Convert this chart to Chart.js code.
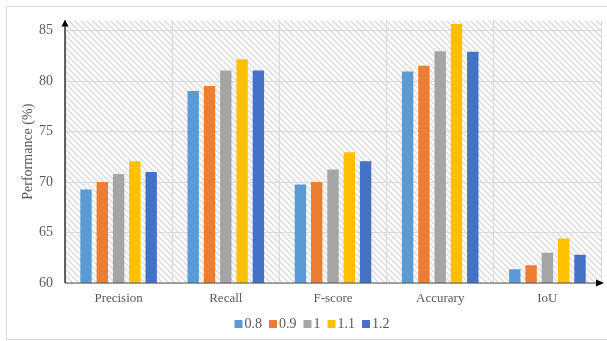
<!DOCTYPE html>
<html>
<head>
<meta charset="utf-8">
<script src="https://cdn.jsdelivr.net/npm/chart.js@4.4.1/dist/chart.umd.min.js"></script>
<style>
  html, body { margin: 0; padding: 0; background: #ffffff; }
  #wrap { width: 607px; height: 341px; position: relative; }
</style>
</head>
<body>
<div id="wrap"><canvas id="c" width="607" height="341"></canvas></div>
<script>
// Metrics on the x axis
const categories = ['Precision', 'Recall', 'F-score', 'Accurary', 'IoU'];

// One series per parameter setting
const seriesNames = ['0.8', '0.9', '1', '1.1', '1.2'];
const values08 = [69.25, 79.0, 69.75, 80.95, 61.35];
const values09 = [70.0, 79.5, 70.0, 81.5, 61.75];
const values10 = [70.8, 81.05, 71.25, 82.95, 63.0];
const values11 = [72.05, 82.15, 72.95, 85.65, 64.4];
const values12 = [71.0, 81.05, 72.05, 82.9, 62.8];

// Y axis ticks
const yTicks = [60, 65, 70, 75, 80, 85];

const seriesValues = [values08, values09, values10, values11, values12];
const seriesColors = ['#5B9BD5', '#ED7D31', '#A5A5A5', '#FFC000', '#4472C4'];

const FONT = "'Liberation Serif', 'Times New Roman', serif";
const TEXT = '#595959';

// Diagonal hatch used as plot area fill
function makeHatch() {
  const t = document.createElement('canvas');
  t.width = 6; t.height = 6;
  const g = t.getContext('2d');
  g.fillStyle = '#ffffff';
  g.fillRect(0, 0, 6, 6);
  g.strokeStyle = '#e0e0e0';
  g.lineWidth = 1.8;
  g.beginPath();
  g.moveTo(-1, -1); g.lineTo(7, 7);
  g.moveTo(-4, 2); g.lineTo(2, 8);
  g.moveTo(4, -2); g.lineTo(8, 2);
  g.stroke();
  return t;
}

const chromePlugin = {
  id: 'chrome',
  beforeDraw(chart) {
    const ctx = chart.ctx;
    const a = chart.chartArea;
    ctx.save();
    ctx.fillStyle = '#ffffff';
    ctx.fillRect(0, 0, chart.width, chart.height);
    // outer frame
    ctx.strokeStyle = '#d9d9d9';
    ctx.lineWidth = 1;
    ctx.strokeRect(6.5, 6.5, chart.width + 10, chart.height - 8);
    // hatched plot area
    ctx.fillStyle = ctx.createPattern(makeHatch(), 'repeat');
    ctx.fillRect(a.left, a.top, a.right - a.left, a.bottom - a.top);
    ctx.restore();
  },
  afterDatasetsDraw(chart) {
    const ctx = chart.ctx;
    const a = chart.chartArea;
    ctx.save();
    ctx.strokeStyle = '#000000';
    ctx.fillStyle = '#000000';
    ctx.lineWidth = 1.2;
    // y axis with arrow
    ctx.beginPath();
    ctx.moveTo(a.left, a.bottom);
    ctx.lineTo(a.left, a.top + 4);
    ctx.stroke();
    ctx.beginPath();
    ctx.moveTo(a.left, a.top - 1);
    ctx.lineTo(a.left - 3.5, a.top + 6);
    ctx.lineTo(a.left + 3.5, a.top + 6);
    ctx.closePath();
    ctx.fill();
    // x axis with arrow
    ctx.strokeStyle = '#595959';
    ctx.beginPath();
    ctx.moveTo(a.left, a.bottom);
    ctx.lineTo(a.right - 2, a.bottom);
    ctx.stroke();
    ctx.beginPath();
    ctx.moveTo(a.right + 3, a.bottom);
    ctx.lineTo(a.right - 5, a.bottom - 3.5);
    ctx.lineTo(a.right - 5, a.bottom + 3.5);
    ctx.closePath();
    ctx.fill();
    ctx.restore();
  },
  afterDraw(chart) {
    // compact legend: square swatch, small gap, label
    const ctx = chart.ctx;
    const sets = chart.data.datasets;
    ctx.save();
    ctx.font = '14px ' + FONT;
    ctx.textBaseline = 'middle';
    const box = 8, gapText = 2, gapItem = 7;
    const widths = sets.map(d => box + gapText + ctx.measureText(d.label).width);
    const total = widths.reduce((s, w) => s + w, 0) + gapItem * (sets.length - 1);
    let x = 312 - total / 2;
    const y = 324;
    sets.forEach((d, i) => {
      ctx.fillStyle = d.backgroundColor;
      ctx.fillRect(x, y - box / 2, box, box);
      ctx.fillStyle = TEXT;
      ctx.fillText(d.label, x + box + gapText, y);
      x += widths[i] + gapItem;
    });
    ctx.restore();
  }
};

new Chart(document.getElementById('c'), {
  type: 'bar',
  data: {
    labels: categories,
    datasets: seriesNames.map((name, i) => ({
      label: name,
      data: seriesValues[i],
      backgroundColor: seriesColors[i],
      borderWidth: 0,
      categoryPercentage: 0.76,
      barPercentage: 0.70
    }))
  },
  options: {
    responsive: false,
    animation: false,
    devicePixelRatio: 1,
    layout: { padding: { top: 19, right: 6, left: 0, bottom: 30 } },
    plugins: {
      tooltip: { enabled: false },
      legend: { display: false }
    },
    scales: {
      x: {
        grid: { color: '#d9d9d9', lineWidth: 1, drawTicks: false, offset: true },
        border: { display: false },
        ticks: { color: TEXT, font: { family: FONT, size: 13 }, padding: 8 },
        afterFit(s) { s.height = 28; }
      },
      y: {
        min: 60,
        max: 86,
        grid: { color: '#d9d9d9', lineWidth: 1, drawTicks: false },
        border: { display: false },
        afterBuildTicks(s) { s.ticks = yTicks.map(v => ({ value: v })); },
        ticks: { color: TEXT, font: { family: FONT, size: 14 }, padding: 12 },
        title: {
          display: true,
          text: 'Performance (%)',
          color: TEXT,
          font: { family: FONT, size: 14 },
          padding: { top: 20, bottom: 0 }
        },
        afterFit(s) { s.width = 65; }
      }
    }
  },
  plugins: [chromePlugin]
});
</script>
</body>
</html>
